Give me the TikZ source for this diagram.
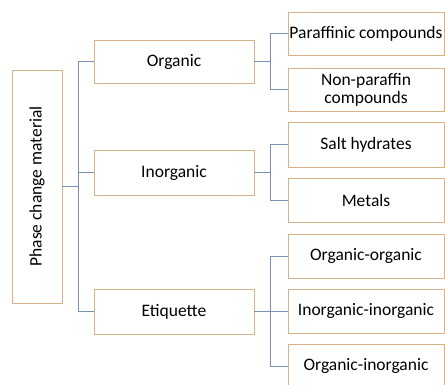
\documentclass[tikz,border=0pt]{standalone}
\usepackage{fontspec}
\setmainfont{Carlito}
\usepackage{xcolor}
\usepackage{tikz}
\definecolor{boxline}{RGB}{214,178,138}
\definecolor{treeline}{RGB}{122,146,178}

\begin{document}
\begin{tikzpicture}[x=1pt,y=-1pt]
		\useasboundingbox (0,0) rectangle (445,384);
		\begin{scope}[every node/.style = {rectangle, draw=boxline, line width=0.9pt, inner sep=0pt, outer sep=0pt, align=center, font=\fontsize{17.5}{18}\selectfont}]
			\node[rotate=90, minimum width=233pt, minimum height=50pt] (PCM) at (37,186.5) {Phase change material};
			\node[minimum width=160pt, minimum height=43pt] (Org) at (174,61.5) {Organic};
			\node[minimum width=160pt, minimum height=45pt] (Inorg) at (174,172.5) {Inorganic};
			\node[minimum width=160pt, minimum height=45pt] (Etiq) at (174,311.5) {Etiquette};
			\node[minimum width=156pt, minimum height=43pt] (Paraf) at (366,33.5) {Paraffinic compounds};
			\node[minimum width=156pt, minimum height=43pt] (NonParaf) at (366,89.5) {Non-paraffin\\compounds};
			\node[minimum width=156pt, minimum height=45pt] (Salt) at (366,144.5) {Salt hydrates};
			\node[minimum width=156pt, minimum height=44pt] (Metal) at (366,200) {Metals};
			\node[minimum width=156pt, minimum height=44pt] (OrgOrg) at (366,256) {Organic-organic};
			\node[minimum width=156pt, minimum height=44pt] (InorgInorg) at (366,311) {Inorganic-inorganic};
			\node[minimum width=156pt, minimum height=44pt] (OrgInorg) at (366,366) {Organic-inorganic};
		\end{scope}
		\begin{scope}[draw=treeline, line width=0.8pt]
			\draw (PCM.south) -- ++(16,0) |- (Org.west);
			\draw (PCM.south) -- ++(16,0) |- (Inorg.west);
			\draw (PCM.south) -- ++(16,0) |- (Etiq.west);
			\draw (Org.east) -- ++(16,0) |- (Paraf.west);
			\draw (Org.east) -- ++(16,0) |- (NonParaf.west);
			\draw (Inorg.east) -- ++(16,0) |- (Salt.west);
			\draw (Inorg.east) -- ++(16,0) |- (Metal.west);
			\draw (Etiq.east) -- ++(16,0) |- (OrgOrg.west);
			\draw (Etiq.east) -- ++(16,0) |- (InorgInorg.west);
			\draw (Etiq.east) -- ++(16,0) |- (OrgInorg.west);
		\end{scope}
	\end{tikzpicture}
\end{document}
